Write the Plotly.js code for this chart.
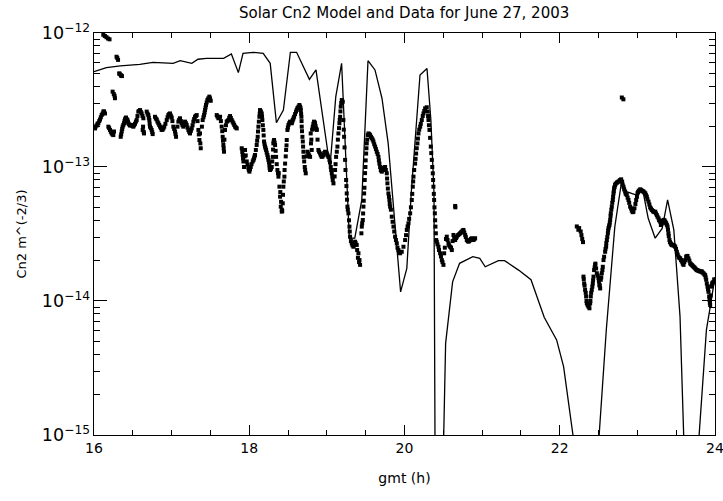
<!DOCTYPE html>
<html>
<head>
<meta charset="utf-8">
<script src="https://cdn.plot.ly/plotly-3.0.1.min.js"></script>
<style>html,body{margin:0;padding:0;background:#fff;}#chart{width:723px;height:501px;}</style>
</head>
<body>
<div id="chart"></div>
<script>
// Model (solid line): time in hours GMT, Cn2 in m^(-2/3)
var modelTime = [16.00,16.16,16.34,16.59,16.76,16.94,17.02,17.11,17.26,17.34,17.45,17.67,17.77,17.86,17.92,18.05,18.18,18.27,18.35,18.44,18.53,18.61,18.775,18.86,19.04,19.115,19.19,19.29,19.36,19.45,19.53,19.62,19.71,19.79,19.95,20.03,20.09,20.20,20.29,20.34,20.38,20.40,20.47,20.53,20.62,20.71,20.78,20.88,20.97,21.04,21.21,21.29,21.47,21.63,21.80,21.96,22.05,22.25,22.45,22.60,22.71,22.80,22.86,22.99,23.07,23.14,23.23,23.32,23.39,23.47,23.55,23.65,23.76,23.89,23.94,24.00];
var modelCn2 = [5.14e-13,5.51e-13,5.68e-13,5.83e-13,6.04e-13,5.94e-13,5.94e-13,6.21e-13,5.94e-13,6.37e-13,6.47e-13,6.47e-13,6.97e-13,5.06e-13,7.05e-13,7.18e-13,7.05e-13,5.94e-13,2.14e-13,2.66e-13,7.18e-13,7.18e-13,4.51e-13,5.30e-13,1.0e-13,3.35e-13,5.94e-13,2.94e-14,2.95e-14,5.68e-14,6.21e-13,5.30e-13,3.26e-13,1.50e-13,1.17e-14,1.75e-14,6.76e-14,4.86e-13,5.44e-13,2.24e-13,6.46e-14,1.0e-16,1.0e-16,4.83e-15,1.39e-14,1.91e-14,2.0e-14,2.14e-14,2.08e-14,1.80e-14,2.0e-14,2.0e-14,1.70e-14,1.44e-14,7.55e-15,5.12e-15,3.24e-15,4.6e-16,3.2e-16,6.08e-15,3.59e-14,8.0e-14,6.55e-14,6.18e-14,6.73e-14,4.14e-14,2.94e-14,3.48e-14,5.68e-14,3.39e-14,7.64e-15,1.0e-16,5.0e-16,6.08e-15,9.12e-15,1.51e-14];

// Measured data (dots), first reading
var dataTime = [
16.12,16.14,16.16,16.18,16.20,16.29,16.30,16.31,16.325,16.33,16.345,16.35,16.36,16.24,16.255,16.265,16.27,
16.013,16.034,16.056,16.077,16.099,16.120,16.142,16.185,16.206,16.228,16.249,16.258,16.344,16.357,16.369,16.387,16.400,16.412,16.430,16.442,16.464,16.485,16.507,16.528,16.550,16.571,16.593,16.614,16.636,16.627,16.644,16.679,16.700,16.713,16.722,16.743,16.756,16.786,16.808,16.829,16.851,16.872,16.894,16.937,16.958,16.979,17.001,17.022,17.044,17.057,17.087,17.108,17.130,17.151,17.173,17.194,17.216,17.237,17.259,17.280,17.302,17.323,17.345,17.358,17.375,17.366,17.400,17.418,17.431,17.443,17.461,17.486,17.504,17.581,17.602,17.624,17.645,17.658,17.667,17.675,17.688,17.710,17.731,17.753,17.774,17.796,17.817,17.839,17.903,17.916,17.925,17.933,17.946,17.968,17.989,18.002,18.019,18.045,18.062,18.075,18.096,18.109,18.118,18.131,18.139,18.161,18.169,18.182,18.191,18.204,18.217,18.234,18.247,18.260,18.268,18.290,18.303,18.311,18.320,18.333,18.346,18.363,18.376,18.389,18.397,18.406,18.419,18.432,18.440,18.453,18.462,18.475,18.483,18.492,18.505,18.526,18.548,18.560,18.578,18.603,18.621,18.646,
18.655,18.664,18.672,18.676,18.685,18.694,18.702,18.715,18.728,18.762,18.784,18.805,18.792,18.818,18.835,18.848,18.861,18.870,18.891,18.913,18.934,18.956,18.977,18.999,19.020,19.033,19.050,19.063,19.076,19.085,19.106,19.119,19.136,19.149,19.162,19.171,19.179,19.192,19.205,19.213,19.222,19.235,19.248,19.256,19.265,19.278,19.291,19.299,19.321,19.342,19.364,19.385,19.407,19.420,19.428,19.450,19.463,19.471,19.480,19.488,19.497,19.506,19.514,19.527,19.536,19.557,19.579,19.600,19.622,19.643,19.665,19.677,19.695,19.708,19.729,19.750,19.772,19.780,19.793,19.806,19.815,19.836,19.858,19.879,19.901,19.922,19.944,19.965,19.987,20.008,20.030,20.051,20.073,20.094,20.107,20.116,20.137,20.150,20.167,20.180,20.202,20.223,20.245,20.266,20.287,20.300,20.309,20.322,20.339,20.352,20.365,20.373,20.382,20.391,20.399,20.408,20.416,20.438,20.459,20.481,20.502,20.511,20.545,20.567,20.588,20.610,20.631,20.653,20.653,20.674,20.717,20.739,20.760,20.782,20.803,20.824,20.846,20.867,20.889,20.910,
22.22,22.24,22.25,22.27,22.28,22.29,22.30,22.80,22.82,
22.306,22.315,22.327,22.340,22.349,22.370,22.383,22.392,22.400,22.413,22.426,22.435,22.443,22.456,22.469,22.478,22.499,22.512,22.521,22.529,22.542,22.555,22.564,22.572,22.585,22.598,22.607,22.620,22.628,22.641,22.650,22.658,22.671,22.684,22.693,22.701,22.714,22.736,22.757,22.779,22.791,22.804,22.821,22.843,22.864,22.886,22.907,22.929,22.950,22.963,22.985,23.002,23.019,23.036,23.058,23.079,23.101,23.122,23.144,23.165,23.187,23.208,23.230,23.251,23.273,23.294,23.303,23.315,23.337,23.358,23.371,23.389,23.401,23.414,23.431,23.444,23.466,23.487,23.509,23.530,23.552,23.573,23.595,23.616,23.629,23.646,23.659,23.681,23.702,23.724,23.745,23.767,23.788,23.810,23.831,23.852,23.874,23.887,23.904,23.917,23.930,23.938,23.951,23.964,23.981
];
var dataCn2 = [
9.7e-13,9.5e-13,9.3e-13,9.1e-13,8.97e-13,6.65e-13,6.5e-13,6.3e-13,5.0e-13,4.95e-13,4.85e-13,4.8e-13,4.77e-13,3.65e-13,3.5e-13,3.4e-13,3.26e-13,
1.94e-13,2.04e-13,2.12e-13,2.26e-13,2.44e-13,2.59e-13,2.51e-13,2.0e-13,1.89e-13,1.78e-13,1.73e-13,1.84e-13,1.68e-13,1.84e-13,2.0e-13,2.12e-13,2.26e-13,2.34e-13,2.24e-13,2.12e-13,2.04e-13,2.06e-13,2.0e-13,2.1e-13,2.24e-13,2.59e-13,2.66e-13,2.51e-13,2.31e-13,1.89e-13,1.78e-13,2.59e-13,2.44e-13,2.24e-13,2.0e-13,1.89e-13,1.76e-13,2.37e-13,2.26e-13,2.12e-13,2.0e-13,1.89e-13,1.94e-13,2.24e-13,2.44e-13,2.51e-13,2.34e-13,2.0e-13,1.84e-13,1.68e-13,2.18e-13,2.31e-13,2.12e-13,2.0e-13,2.18e-13,2.06e-13,1.89e-13,1.78e-13,1.94e-13,2.18e-13,2.37e-13,2.44e-13,1.89e-13,1.59e-13,1.38e-13,1.78e-13,2.24e-13,2.44e-13,2.66e-13,2.90e-13,3.16e-13,3.35e-13,3.12e-13,2.44e-13,2.31e-13,2.37e-13,2.0e-13,1.68e-13,1.46e-13,1.30e-13,1.89e-13,2.18e-13,2.24e-13,2.40e-13,2.24e-13,2.12e-13,2.0e-13,1.94e-13,1.38e-13,1.23e-13,1.10e-13,1.0e-13,1.34e-13,1.10e-13,9.8e-14,9.23e-14,1.0e-13,1.10e-13,1.16e-13,1.23e-13,1.46e-13,1.68e-13,2.0e-13,2.37e-13,2.66e-13,2.51e-13,2.24e-13,1.89e-13,1.55e-13,1.42e-13,1.34e-13,1.23e-13,1.13e-13,1.03e-13,9.5e-14,1.0e-13,1.19e-13,1.50e-13,1.59e-13,1.46e-13,1.19e-13,9.5e-14,8.47e-14,7.13e-14,6.0e-14,5.06e-14,4.64e-14,5.36e-14,7.13e-14,8.47e-14,1.06e-13,1.34e-13,1.59e-13,1.89e-13,2.06e-13,2.18e-13,2.12e-13,2.24e-13,2.37e-13,2.59e-13,2.75e-13,2.90e-13,
2.82e-13,2.66e-13,2.37e-13,2.0e-13,1.68e-13,1.42e-13,1.19e-13,1.0e-13,8.97e-14,1.26e-13,1.19e-13,1.34e-13,1.78e-13,2.0e-13,2.18e-13,2.12e-13,1.94e-13,1.89e-13,1.34e-13,1.26e-13,1.19e-13,1.23e-13,1.30e-13,1.26e-13,1.19e-13,1.13e-13,1.0e-13,8.97e-14,8.0e-14,7.55e-14,9.5e-14,1.19e-13,1.42e-13,1.78e-13,2.12e-13,2.37e-13,2.82e-13,3.16e-13,3.07e-13,2.24e-13,1.68e-13,1.13e-13,8.0e-14,6.35e-14,5.06e-14,4.51e-14,3.59e-14,3.02e-14,2.69e-14,2.54e-14,2.77e-14,2.62e-14,2.27e-14,2.02e-14,1.86e-14,3.59e-14,4.02e-14,5.06e-14,6.35e-14,8.0e-14,1.0e-13,1.26e-13,1.50e-13,1.73e-13,1.78e-13,1.73e-13,1.64e-13,1.55e-13,1.42e-13,1.30e-13,1.19e-13,1.06e-13,9.5e-14,9.23e-14,9.77e-14,1.0e-13,8.97e-14,7.55e-14,6.35e-14,5.67e-14,5.06e-14,4.26e-14,3.59e-14,3.02e-14,2.69e-14,2.40e-14,2.27e-14,2.33e-14,2.54e-14,2.85e-14,3.39e-14,3.80e-14,4.51e-14,5.67e-14,7.13e-14,8.47e-14,1.06e-13,1.26e-13,1.50e-13,1.78e-13,2.0e-13,2.24e-13,2.51e-13,2.74e-13,2.79e-13,2.59e-13,2.24e-13,1.89e-13,1.42e-13,1.13e-13,8.97e-14,7.13e-14,5.67e-14,4.51e-14,3.59e-14,2.85e-14,2.77e-14,2.54e-14,2.27e-14,2.02e-14,1.86e-14,2.27e-14,3.02e-14,2.69e-14,2.54e-14,2.40e-14,3.11e-14,5.12e-14,2.85e-14,3.02e-14,3.20e-14,3.29e-14,3.39e-14,3.11e-14,2.85e-14,2.77e-14,2.85e-14,2.94e-14,2.85e-14,2.94e-14,
3.6e-14,3.4e-14,3.5e-14,3.3e-14,3.1e-14,2.9e-14,2.75e-14,3.3e-13,3.2e-13,
1.52e-14,1.35e-14,1.21e-14,1.08e-14,9.6e-15,9.07e-15,8.82e-15,9.6e-15,1.08e-14,1.21e-14,1.35e-14,1.52e-14,1.70e-14,1.86e-14,1.75e-14,1.61e-14,1.48e-14,1.32e-14,1.24e-14,1.44e-14,1.61e-14,1.80e-14,2.02e-14,2.14e-14,2.33e-14,2.54e-14,2.85e-14,3.20e-14,3.49e-14,3.69e-14,4.03e-14,4.51e-14,5.06e-14,5.67e-14,6.37e-14,6.93e-14,7.34e-14,7.64e-14,7.78e-14,8.0e-14,8.09e-14,7.78e-14,7.13e-14,6.55e-14,6.18e-14,5.67e-14,5.06e-14,4.72e-14,4.64e-14,4.92e-14,5.67e-14,6.37e-14,6.66e-14,6.81e-14,6.66e-14,6.55e-14,6.37e-14,6.01e-14,5.51e-14,5.0e-14,4.78e-14,4.64e-14,4.64e-14,4.38e-14,4.14e-14,3.91e-14,3.69e-14,3.80e-14,4.03e-14,3.91e-14,3.80e-14,3.59e-14,3.20e-14,2.85e-14,2.69e-14,2.62e-14,2.62e-14,2.54e-14,2.33e-14,2.14e-14,2.08e-14,1.97e-14,1.86e-14,2.02e-14,2.14e-14,2.17e-14,2.08e-14,1.91e-14,1.86e-14,1.80e-14,1.75e-14,1.70e-14,1.68e-14,1.66e-14,1.66e-14,1.61e-14,1.56e-14,1.44e-14,1.28e-14,1.17e-14,1.02e-14,9.34e-15,1.28e-14,1.35e-14,1.39e-14
];

// Measured data (dots), second reading of the denser streaks
var dataTime2 = [
16.02,16.045,16.067,16.088,16.11,16.13,16.195,16.217,16.24,16.35,16.363,16.378,16.393,16.405,16.42,16.436,16.453,16.475,16.496,16.517,16.54,16.56,16.582,16.603,16.625,16.632,16.64,16.69,16.706,16.717,16.732,16.75,16.797,16.818,16.84,16.862,16.883,16.905,16.92,16.948,16.968,16.99,17.01,17.033,17.05,17.075,17.097,17.12,17.14,17.162,17.184,17.205,17.226,17.248,17.27,17.29,17.312,17.334,17.35,17.37,17.39,17.41,17.425,17.437,17.452,17.472,17.495,17.59,17.613,17.635,17.652,17.662,17.671,17.68,17.70,17.72,17.742,17.763,17.785,17.806,17.828,
17.91,17.92,17.94,17.955,17.978,17.995,18.01,18.03,18.054,18.068,18.085,18.102,18.113,18.124,18.135,18.15,18.165,18.175,18.186,18.197,18.21,18.225,18.24,18.254,18.263,18.28,18.296,18.307,18.315,18.327,18.34,18.354,18.37,18.38,18.40,18.41,18.42,18.425,18.435,18.445,18.455,18.47,18.48,
18.498,18.515,18.537,18.554,18.569,18.59,18.612,18.634,18.66,18.668,18.674,18.68,18.69,18.698,18.708,18.72,18.74,18.75,18.772,18.795,18.80,18.81,18.826,18.842,18.855,18.865,18.88,18.9,18.923,18.945,18.966,18.988,19.01,19.04,19.055,19.07,19.10,19.112,19.128,19.142,19.156,19.166,19.175,19.185,
19.218,19.228,19.24,19.252,19.26,19.27,19.285,19.295,19.31,19.33,19.35,19.37,19.39,19.40,19.415,19.445,19.455,19.467,19.475,19.484,19.492,19.50,19.51,19.52,19.546,19.568,19.59,19.61,19.632,19.654,19.67,19.686,19.70,19.718,19.74,19.76,
19.776,19.786,19.80,19.81,19.825,19.847,19.868,19.89,19.91,19.93,20.02,20.04,20.06,20.083,20.10,20.112,20.125,20.143,20.158,20.173,20.19,20.21,20.235,20.255,20.304,20.315,20.33,20.345,20.358,20.369,20.378,20.386,20.395,20.404,
20.425,20.445,20.47,20.49,20.52,20.535,20.555,20.575,20.60,20.62,20.64,20.665,20.69,20.705,20.728,20.75,20.77,20.79,20.815,20.835,20.855,20.878,20.9,20.655,
22.31,22.32,22.335,22.345,22.36,22.38,22.395,22.405,22.42,22.43,22.45,22.46,22.49,22.505,22.515,22.535,22.55,
22.59,22.60,22.613,22.624,22.635,22.645,22.655,22.665,22.677,22.688,22.697,22.707,22.72,22.745,22.77,
22.81,22.83,22.85,22.875,22.895,22.92,22.94,22.975,22.995,23.01,23.045,23.07,23.09,23.11,23.13,23.155,23.175,23.20,23.22,23.24,23.26,23.28,23.325,23.35,23.365,23.38,23.395,23.405,23.42,23.437,23.455,23.477,23.498,23.52,23.54,23.563,23.585,23.605,23.637,23.67,23.69,23.713,23.735,23.757,23.778,23.8,23.82,23.84,23.863,23.88,23.895,23.91,23.925,23.934,23.945,23.958,23.97,23.99
];
var dataCn2b = [
2.0e-13,2.1e-13,2.2e-13,2.35e-13,2.5e-13,2.6e-13,1.95e-13,1.83e-13,1.75e-13,1.75e-13,1.92e-13,2.06e-13,2.2e-13,2.3e-13,2.28e-13,2.18e-13,2.08e-13,2.05e-13,2.02e-13,2.05e-13,2.18e-13,2.4e-13,2.62e-13,2.58e-13,2.4e-13,2.0e-13,1.83e-13,2.5e-13,2.33e-13,2.1e-13,1.95e-13,1.82e-13,2.3e-13,2.18e-13,2.06e-13,1.95e-13,1.9e-13,2.0e-13,2.1e-13,2.35e-13,2.48e-13,2.42e-13,2.2e-13,1.92e-13,1.76e-13,2.0e-13,2.25e-13,2.2e-13,2.05e-13,2.1e-13,2.12e-13,1.97e-13,1.83e-13,1.86e-13,2.05e-13,2.28e-13,2.4e-13,2.2e-13,1.75e-13,1.5e-13,2.0e-13,2.35e-13,2.55e-13,2.78e-13,3.03e-13,3.25e-13,3.25e-13,2.38e-13,2.34e-13,2.2e-13,1.85e-13,1.57e-13,1.38e-13,1.6e-13,2.05e-13,2.2e-13,2.33e-13,2.32e-13,2.18e-13,2.06e-13,1.97e-13,
1.3e-13,1.16e-13,1.2e-13,1.22e-13,1.04e-13,9.5e-14,9.6e-14,1.05e-13,1.13e-13,1.2e-13,1.34e-13,1.57e-13,1.84e-13,2.18e-13,2.5e-13,2.6e-13,2.38e-13,2.05e-13,1.72e-13,1.48e-13,1.38e-13,1.28e-13,1.18e-13,1.08e-13,9.8e-14,9.7e-14,1.1e-13,1.35e-13,1.55e-13,1.52e-13,1.32e-13,1.05e-13,9.0e-14,9.0e-14,6.5e-14,5.5e-14,4.8e-14,4.7e-14,6.2e-14,7.8e-14,9.5e-14,1.2e-13,1.45e-13,
1.97e-13,2.12e-13,2.15e-13,2.18e-13,2.3e-13,2.48e-13,2.67e-13,2.82e-13,2.75e-13,2.5e-13,2.2e-13,1.85e-13,1.55e-13,1.3e-13,1.1e-13,9.5e-14,1.2e-13,1.3e-13,1.22e-13,1.5e-13,1.6e-13,1.9e-13,2.1e-13,2.15e-13,2.02e-13,1.92e-13,1.6e-13,1.3e-13,1.22e-13,1.2e-13,1.27e-13,1.28e-13,1.22e-13,1.08e-13,9.5e-14,8.5e-14,8.5e-14,1.05e-13,1.3e-13,1.6e-13,1.95e-13,2.25e-13,2.6e-13,3.0e-13,
1.9e-13,1.4e-13,9.5e-14,7.2e-14,5.7e-14,4.8e-14,4.0e-14,3.3e-14,2.8e-14,2.6e-14,2.6e-14,2.7e-14,2.4e-14,2.1e-14,1.95e-14,3.2e-14,3.8e-14,4.5e-14,5.6e-14,7.0e-14,9.0e-14,1.12e-13,1.38e-13,1.6e-13,1.76e-13,1.68e-13,1.6e-13,1.48e-13,1.36e-13,1.25e-13,1.12e-13,1.0e-13,9.4e-14,9.5e-14,9.9e-14,9.5e-14,
8.2e-14,6.9e-14,6.0e-14,5.3e-14,4.8e-14,3.9e-14,3.3e-14,2.85e-14,2.5e-14,2.3e-14,3.1e-14,3.6e-14,4.1e-14,5.0e-14,6.3e-14,7.8e-14,9.5e-14,1.15e-13,1.38e-13,1.63e-13,1.9e-13,2.1e-13,2.4e-13,2.62e-13,2.4e-13,2.05e-13,1.65e-13,1.27e-13,1.0e-13,8.0e-14,6.3e-14,5.0e-14,4.0e-14,3.2e-14,
2.65e-14,2.4e-14,2.15e-14,1.95e-14,2.5e-14,2.9e-14,2.85e-14,2.6e-14,2.5e-14,2.8e-14,3.0e-14,2.95e-14,3.1e-14,3.15e-14,3.25e-14,3.35e-14,3.25e-14,3.0e-14,2.8e-14,2.8e-14,2.9e-14,2.9e-14,2.9e-14,5.0e-14,
1.45e-14,1.3e-14,1.15e-14,1.0e-14,9.3e-15,9.5e-15,1.0e-14,1.15e-14,1.28e-14,1.43e-14,1.78e-14,1.9e-14,1.55e-14,1.4e-14,1.3e-14,1.5e-14,1.7e-14,
2.45e-14,2.7e-14,3.0e-14,3.35e-14,3.6e-14,3.85e-14,4.3e-14,4.8e-14,5.4e-14,6.0e-14,6.6e-14,7.1e-14,7.5e-14,7.7e-14,7.9e-14,
7.4e-14,6.8e-14,6.3e-14,5.9e-14,5.4e-14,4.9e-14,4.6e-14,5.3e-14,6.0e-14,6.5e-14,6.75e-14,6.6e-14,6.45e-14,6.2e-14,5.75e-14,5.25e-14,4.9e-14,4.7e-14,4.6e-14,4.5e-14,4.25e-14,4.0e-14,3.95e-14,4.0e-14,3.85e-14,3.7e-14,3.4e-14,3.05e-14,2.75e-14,2.65e-14,2.6e-14,2.58e-14,2.45e-14,2.22e-14,2.1e-14,2.02e-14,1.9e-14,1.95e-14,2.15e-14,2.0e-14,1.88e-14,1.83e-14,1.78e-14,1.72e-14,1.69e-14,1.67e-14,1.66e-14,1.63e-14,1.58e-14,1.5e-14,1.35e-14,1.22e-14,1.08e-14,9.7e-15,1.1e-14,1.3e-14,1.37e-14,1.45e-14
];

var xTick0 = 16, xTickStep = 2, xMinorStep = 0.5;
var yTickStepDecades = 1;
var xRange = [16, 24.0005];
var yRangeLog = [-15.0002, -12];

var font = 'DejaVu Sans, sans-serif';

var dotMarker = {symbol: 'square', size: 4, color: '#000', line: {width: 0}};
var traces = [
  {x: modelTime, y: modelCn2, mode: 'lines', type: 'scatter', line: {color: '#000', width: 1.3}, hoverinfo: 'skip'},
  {x: dataTime, y: dataCn2, mode: 'markers', type: 'scatter', marker: dotMarker, hoverinfo: 'skip'},
  {x: dataTime2, y: dataCn2b, mode: 'markers', type: 'scatter', marker: dotMarker, hoverinfo: 'skip'},
  // empty trace on overlay axes that only carry the tick marks
  {x: [], y: [], mode: 'markers', type: 'scatter', xaxis: 'x2', yaxis: 'y2', hoverinfo: 'skip'}
];

function tickAxis(extra) {
  var a = {
    showgrid: false, zeroline: false, showline: true, linecolor: '#000', linewidth: 1.2,
    mirror: 'allticks', ticks: 'inside', tickcolor: '#000', tickwidth: 1
  };
  for (var k in extra) a[k] = extra[k];
  return a;
}

var layout = {
  width: 723, height: 501,
  margin: {l: 94, r: 8, t: 33, b: 66, pad: 0},
  showlegend: false,
  title: {text: 'Solar Cn2 Model and Data for June 27, 2003', x: 0.559, xanchor: 'center', y: 0.985, yanchor: 'top',
          font: {family: font, size: 15, color: '#000'}},
  xaxis: tickAxis({
    range: xRange, tickmode: 'linear', tick0: xTick0, dtick: xTickStep, ticklen: 10,
    ticklabeloverflow: 'allow',
    tickfont: {family: font, size: 14, color: '#000'},
    minor: {dtick: xMinorStep, ticks: 'inside', ticklen: 5, tickcolor: '#000', showgrid: false},
    title: {text: 'gmt (h)', font: {family: font, size: 14, color: '#000'}, standoff: 18}
  }),
  yaxis: tickAxis({
    type: 'log', range: yRangeLog, tickmode: 'linear', tick0: 0, dtick: yTickStepDecades,
    exponentformat: 'power', showexponent: 'all', ticklen: 13,
    tickfont: {family: font, size: 14, color: '#000'},
    minor: {dtick: 'D1', ticks: 'inside', ticklen: 6, tickcolor: '#000', showgrid: false},
    title: {text: 'Cn2 m^(-2/3)', font: {family: font, size: 13, color: '#000'}, standoff: 12}
  }),
  xaxis2: tickAxis({
    overlaying: 'x', anchor: 'y2', side: 'bottom', range: xRange,
    tickmode: 'linear', tick0: xTick0, dtick: xTickStep, ticklen: 10, showticklabels: false,
    minor: {dtick: xMinorStep, ticks: 'inside', ticklen: 5, tickcolor: '#000', showgrid: false}
  }),
  yaxis2: tickAxis({
    overlaying: 'y', anchor: 'x2', side: 'left', type: 'log', range: yRangeLog,
    tickmode: 'linear', tick0: 0, dtick: yTickStepDecades, ticklen: 13, showticklabels: false,
    minor: {dtick: 'D1', ticks: 'inside', ticklen: 6, tickcolor: '#000', showgrid: false}
  })
};

Plotly.newPlot('chart', traces, layout, {staticPlot: true, displayModeBar: false});
</script>
</body>
</html>
